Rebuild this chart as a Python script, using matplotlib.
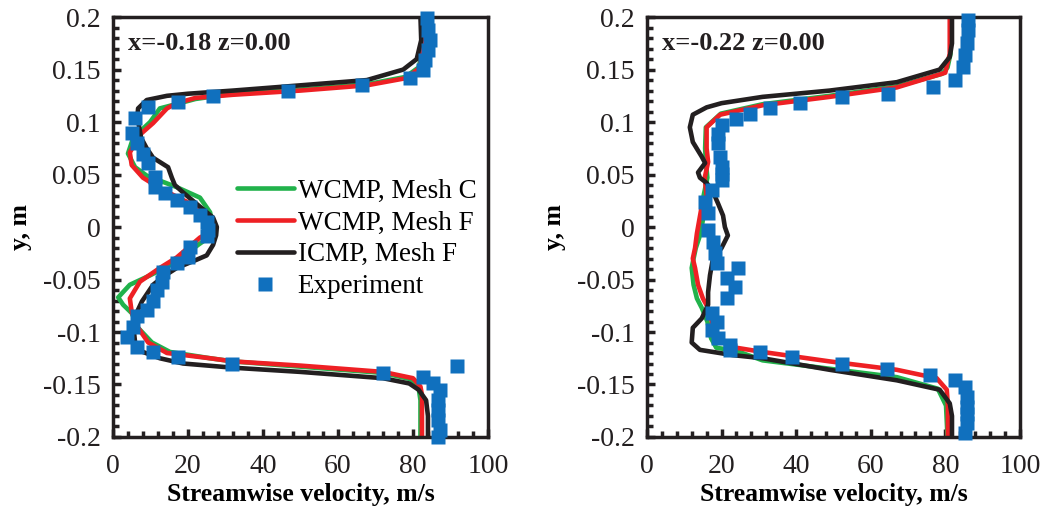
import numpy as np
import matplotlib
matplotlib.use('Agg')
import matplotlib.pyplot as plt
from matplotlib.ticker import MultipleLocator, FormatStrFormatter

plt.rcParams['font.family'] = ['Liberation Serif', 'DejaVu Serif']

# kolorer
c_green = '#21B24B'
c_red = '#EE2024'
c_black = '#231F20'
c_blue = '#1070BE'

# ---- panel 1: x=-0.18 ----
p1_title = 'x=-0.18 z=0.00'
p1_c_u = [82.4, 82.4, 81.5, 78, 67.7, 50, 32, 22, 15.7, 12.5, 9.9, 5.4, 4, 5.9, 9, 17, 23.2, 25.9,
          26.7, 25.5, 22.7, 17, 9.9, 4.5, 1.4, 2.7, 5, 6.7, 10.4, 15.2, 25.9, 32, 50, 72, 79.5,
          81.5, 82, 82]
p1_c_y = [0.2, 0.165, 0.152, 0.143, 0.136, 0.131, 0.127, 0.122, 0.116, 0.113, 0.1, 0.085, 0.07,
          0.057, 0.049, 0.038, 0.028, 0.014, 0.0, -0.01, -0.017, -0.033, -0.046, -0.055, -0.067,
          -0.074, -0.082, -0.096, -0.11, -0.119, -0.125, -0.128, -0.133, -0.139, -0.145, -0.153,
          -0.165, -0.2]
p1_f_u = [82.4, 82.4, 81.9, 78.4, 67.7, 50, 32, 22, 17, 14.4, 10.7, 7.2, 4.5, 5, 8, 12.5, 19.7,
          25, 26.7, 25.9, 23.2, 17, 12.5, 7.2, 4.5, 5, 6.7, 9.4, 14.4, 25.9, 32, 50, 72, 80, 82,
          82.4, 82.4]
p1_f_y = [0.2, 0.165, 0.152, 0.142, 0.135, 0.13, 0.126, 0.123, 0.118, 0.113, 0.099, 0.088, 0.071,
          0.059, 0.047, 0.037, 0.024, 0.011, -0.001, -0.005, -0.01, -0.029, -0.039, -0.052,
          -0.068, -0.081, -0.096, -0.11, -0.12, -0.125, -0.128, -0.132, -0.138, -0.144, -0.152,
          -0.16, -0.2]
p1_i_u = [82.0, 82.2, 81.0, 77.4, 67.7, 50, 32, 20, 14.4, 9, 6.7, 6.5, 7, 7.5, 9, 10.7, 14.7,
          15.7, 16.5, 19, 23, 26.7, 27.7, 27.5, 26.7, 25, 22.4, 17, 13.5, 10.7, 7.7, 6.4, 5.4,
          5.9, 8, 12.5, 18.7, 32, 50, 72, 79, 81.5, 83.5, 84, 84]
p1_i_y = [0.2, 0.178, 0.16, 0.15, 0.14, 0.135, 0.13, 0.127, 0.125, 0.121, 0.113, 0.105, 0.095,
          0.085, 0.075, 0.066, 0.057, 0.047, 0.04, 0.032, 0.02, 0.009, 0.0, -0.008, -0.017,
          -0.027, -0.031, -0.039, -0.047, -0.055, -0.071, -0.081, -0.093, -0.11, -0.119, -0.125,
          -0.13, -0.134, -0.138, -0.144, -0.149, -0.155, -0.165, -0.18, -0.2]
p1_exp_u = [83.7, 84, 84.5, 84, 83.2, 82.7, 79.2, 66.4, 46.7, 26.7, 17.3, 9.4, 5.9, 5.0, 6.3, 8,
            9.4, 11.2, 11.2, 13.9, 17, 20.5, 23.2, 25, 25.3, 25, 20.5, 20, 17, 13.3, 13, 11.7,
            10.7, 9, 6.3, 5.4, 3.7, 6.3, 10.7, 17.3, 31.7, 72, 91.7, 82.7, 85.4, 87.2, 86.7,
            86.7, 86.7, 87.2, 86.7]
p1_exp_y = [0.199, 0.188, 0.178, 0.169, 0.159, 0.15, 0.142, 0.135, 0.130, 0.125, 0.119, 0.114,
            0.104, 0.09, 0.08, 0.07, 0.061, 0.048, 0.038, 0.032, 0.026, 0.019, 0.011, 0.005,
            -0.003, -0.009, -0.019, -0.029, -0.034, -0.043, -0.052, -0.06, -0.07, -0.079,
            -0.085, -0.095, -0.105, -0.114, -0.119, -0.124, -0.13, -0.139, -0.132, -0.143,
            -0.149, -0.155, -0.165, -0.174, -0.184, -0.193, -0.2]

# ---- panel 2: x=-0.22 ----
p2_title = 'x=-0.22 z=0.00'
p2_c_u = [81.4, 81.4, 80.6, 79.2, 67, 49, 31, 19.8, 15.8, 15.6, 15.8, 16.2, 15.2, 15.6, 14.4,
          13.1, 12.5, 12.0, 12.5, 13.4, 14.7, 16.2, 17.2, 18.6, 24, 31, 49, 67, 78, 80.2, 80.6,
          80.6]
p2_c_y = [0.2, 0.165, 0.152, 0.146, 0.134, 0.125, 0.117, 0.108, 0.095, 0.075, 0.062, 0.047,
          0.03, 0.02, -0.006, -0.02, -0.03, -0.039, -0.055, -0.068, -0.077, -0.09, -0.106,
          -0.115, -0.118, -0.127, -0.135, -0.143, -0.154, -0.17, -0.2, -0.2]
p2_f_u = [81.2, 81.2, 80, 67, 49, 31, 19.6, 16, 16, 16.4, 15.5, 16, 14.7, 13.4, 12.9, 12.3,
          12.9, 13.7, 15, 16.4, 17.4, 18.8, 24, 31, 49, 67, 77.7, 80.4, 80.7, 80.7]
p2_f_y = [0.2, 0.165, 0.147, 0.133, 0.124, 0.116, 0.107, 0.095, 0.075, 0.062, 0.047, 0.03,
          0.02, -0.006, -0.02, -0.03, -0.039, -0.055, -0.068, -0.077, -0.09, -0.106, -0.115,
          -0.119, -0.128, -0.136, -0.144, -0.155, -0.17, -0.2]
p2_i_u = [81.8, 81.8, 81.2, 78.5, 67, 49, 31, 20, 16, 12.3, 11.5, 12.3, 14.7, 15.6, 13.7, 14.2,
          16, 17.5, 19, 20.4, 20.9, 21.7, 20, 17.7, 16.9, 16.4, 16.4, 14.7, 12.3, 12, 14.2, 23,
          31, 49, 67, 78.5, 81.2, 81.8, 81.8]
p2_i_y = [0.2, 0.175, 0.162, 0.15, 0.138, 0.13, 0.124, 0.118, 0.114, 0.107, 0.095, 0.081,
          0.067, 0.061, 0.052, 0.047, 0.042, 0.035, 0.023, 0.011, 0.0, -0.008, -0.02, -0.03,
          -0.046, -0.062, -0.074, -0.087, -0.096, -0.11, -0.117, -0.122, -0.125, -0.136,
          -0.146, -0.155, -0.168, -0.18, -0.2]
p2_exp_u = [86, 86, 85.8, 85.3, 84.8, 82.6, 76.7, 64.6, 52.3, 41, 33, 27.6, 24, 20, 19, 19,
            19.6, 20, 20, 20, 17.4, 15.5, 16.4, 16.4, 17.7, 18.2, 18.8, 24.4, 21.4, 23.6, 21.4,
            17.4, 18.8, 17.4, 19, 22.3, 22.3, 30.3, 38.9, 52.3, 64.3, 75.9, 82.6, 85.3, 85.8,
            85.8, 85.8, 85.8, 85.3]
p2_exp_y = [0.197, 0.188, 0.175, 0.164, 0.152, 0.14, 0.133, 0.127, 0.124, 0.118, 0.113, 0.108,
            0.103, 0.097, 0.089, 0.08, 0.067, 0.057, 0.051, 0.045, 0.035, 0.024, 0.013, -0.003,
            -0.014, -0.025, -0.034, -0.039, -0.049, -0.057, -0.068, -0.082, -0.09, -0.098,
            -0.106, -0.112, -0.117, -0.119, -0.124, -0.13, -0.135, -0.141, -0.146, -0.152,
            -0.162, -0.171, -0.178, -0.187, -0.196]

labels = ['WCMP, Mesh C', 'WCMP, Mesh F', 'ICMP, Mesh F', 'Experiment']

fig = plt.figure(figsize=(10.46, 5.18), dpi=100)
ax1 = fig.add_axes([0.108, 0.1564, 0.3585, 0.8106])
ax2 = fig.add_axes([0.6185, 0.1564, 0.3565, 0.8106])

panels = [
    (ax1, p1_title, p1_c_u, p1_c_y, p1_f_u, p1_f_y, p1_i_u, p1_i_y, p1_exp_u, p1_exp_y),
    (ax2, p2_title, p2_c_u, p2_c_y, p2_f_u, p2_f_y, p2_i_u, p2_i_y, p2_exp_u, p2_exp_y),
]

for ax, title, cu, cy, fu, fy, iu, iy, eu, ey in panels:
    ax.plot(cu, cy, color=c_green, lw=3.3, label=labels[0], solid_capstyle='round')
    ax.plot(fu, fy, color=c_red, lw=3.3, label=labels[1], solid_capstyle='round')
    ax.plot(iu, iy, color=c_black, lw=3.3, label=labels[2], solid_capstyle='round')
    ax.plot(eu, ey, 's', color=c_blue, ms=10, mec='none', label=labels[3], clip_on=False, zorder=5)

    ax.set_xlim(0, 100)
    ax.set_ylim(-0.2, 0.2)
    ax.xaxis.set_major_locator(MultipleLocator(20))
    ax.xaxis.set_minor_locator(MultipleLocator(4))
    ax.yaxis.set_major_locator(MultipleLocator(0.05))
    ax.yaxis.set_minor_locator(MultipleLocator(0.01))
    ax.yaxis.set_major_formatter(FormatStrFormatter('%g'))
    ax.tick_params(which='both', direction='in', width=2.5, colors=c_black, labelcolor='#231F20',
                   labelsize=20, top=False, right=False)
    ax.tick_params(axis='x', pad=12)
    ax.tick_params(axis='y', pad=9)
    ax.tick_params(which='major', length=6)
    ax.tick_params(which='minor', length=4)
    for s in ax.spines.values():
        s.set_linewidth(2.5)
        s.set_color(c_black)
    ax.set_xlabel('Streamwise velocity, m/s', fontsize=18.5, fontweight='bold', labelpad=3)
    ax.set_ylabel('y, m', fontsize=18.5, fontweight='bold', labelpad=8)
    ax.text(0.04, 0.965, title, transform=ax.transAxes, fontsize=19, fontweight='bold',
            va='top', ha='left', color=c_black)

ax1.legend(loc='upper left', bbox_to_anchor=(0.33, 0.615), frameon=False, fontsize=19.5,
           handlelength=2.1, handletextpad=0.15, labelspacing=0.25, borderpad=0,
           borderaxespad=0, markerscale=1.0)

fig.savefig('out.png', dpi=100)
